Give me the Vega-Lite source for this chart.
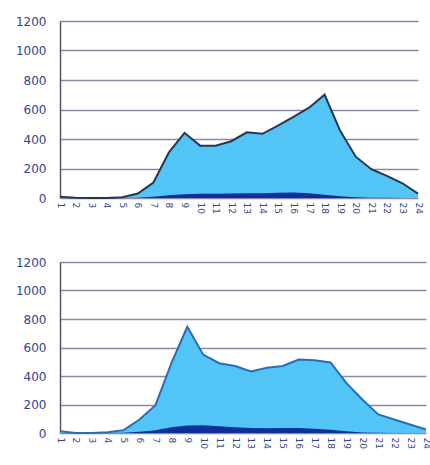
{
  "$schema": "https://vega.github.io/schema/vega-lite/v6.json",
  "background": "white",
  "padding": {"left": 7, "top": 15, "right": 0, "bottom": 0},
  "config": {
    "view": {"stroke": null},
    "axis": {"labelFont": "DejaVu Sans", "labelColor": "#34448a", "title": null}
  },
  "datasets": {
    "top": [
      {"x": 1, "total": 8, "dark": 0}, {"x": 2, "total": 2, "dark": 0}, {"x": 3, "total": 0, "dark": 0}, {"x": 4, "total": 0, "dark": 0},
      {"x": 5, "total": 5, "dark": 0}, {"x": 6, "total": 30, "dark": 2}, {"x": 7, "total": 105, "dark": 8}, {"x": 8, "total": 310, "dark": 18},
      {"x": 9, "total": 442, "dark": 25}, {"x": 10, "total": 355, "dark": 28}, {"x": 11, "total": 355, "dark": 28}, {"x": 12, "total": 385, "dark": 30},
      {"x": 13, "total": 445, "dark": 32}, {"x": 14, "total": 435, "dark": 32}, {"x": 15, "total": 490, "dark": 36}, {"x": 16, "total": 550, "dark": 38},
      {"x": 17, "total": 612, "dark": 32}, {"x": 18, "total": 700, "dark": 22}, {"x": 19, "total": 455, "dark": 12}, {"x": 20, "total": 280, "dark": 5},
      {"x": 21, "total": 195, "dark": 2}, {"x": 22, "total": 150, "dark": 1}, {"x": 23, "total": 100, "dark": 0}, {"x": 24, "total": 30, "dark": 0}
    ],
    "bottom": [
      {"x": 1, "total": 12, "dark": 0}, {"x": 2, "total": 0, "dark": 0}, {"x": 3, "total": 0, "dark": 0}, {"x": 4, "total": 5, "dark": 0},
      {"x": 5, "total": 20, "dark": 2}, {"x": 6, "total": 95, "dark": 8}, {"x": 7, "total": 195, "dark": 20}, {"x": 8, "total": 490, "dark": 40},
      {"x": 9, "total": 745, "dark": 52}, {"x": 10, "total": 550, "dark": 55}, {"x": 11, "total": 490, "dark": 48}, {"x": 12, "total": 470, "dark": 40},
      {"x": 13, "total": 432, "dark": 35}, {"x": 14, "total": 458, "dark": 33}, {"x": 15, "total": 470, "dark": 35}, {"x": 16, "total": 515, "dark": 35},
      {"x": 17, "total": 510, "dark": 30}, {"x": 18, "total": 495, "dark": 22}, {"x": 19, "total": 350, "dark": 12}, {"x": 20, "total": 235, "dark": 4},
      {"x": 21, "total": 130, "dark": 1}, {"x": 22, "total": 95, "dark": 0}, {"x": 23, "total": 60, "dark": 0}, {"x": 24, "total": 25, "dark": 0}
    ]
  },
  "spacing": 42,
  "vconcat": [
    {
      "width": 358,
      "height": 177,
      "data": {"name": "top"},
      "encoding": {
        "x": {"field": "x", "type": "ordinal", "scale": {"type": "point", "padding": 0},
              "axis": {"labelAngle": 90, "labelFontSize": 9, "domain": false, "ticks": false, "labelPadding": 4, "grid": false, "labelOverlap": false}}
      },
      "layer": [
        {
          "mark": {"type": "area", "color": "#52c5f6", "opacity": 1, "line": {"color": "#26384e", "strokeWidth": 2}},
          "encoding": {
            "y": {"field": "total", "type": "quantitative", "scale": {"domain": [0, 1200]},
                  "axis": {"values": [0, 200, 400, 600, 800, 1000, 1200], "format": "d", "labelOverlap": false, "labelFontSize": 12, "labelPadding": 14, "minExtent": 53,
                           "ticks": false, "domain": true, "domainColor": "#555566", "domainWidth": 1.5,
                           "gridColor": "#8a88b0", "gridWidth": 1.6, "gridOpacity": 1}}
          }
        },
        {
          "mark": {"type": "area", "color": "#0c2f9a", "opacity": 1},
          "encoding": {
            "y": {"field": "dark", "type": "quantitative", "scale": {"domain": [0, 1200]},
                  "axis": {"values": [0, 200, 400, 600, 800, 1000, 1200], "format": "d", "labelOverlap": false, "labelFontSize": 12, "labelPadding": 14, "minExtent": 53,
                           "ticks": false, "domain": true, "domainColor": "#555566", "domainWidth": 1.5,
                           "gridColor": "#8a88b0", "gridWidth": 1.6, "gridOpacity": 1}}
          }
        }
      ]
    },
    {
      "width": 366,
      "height": 171,
      "data": {"name": "bottom"},
      "encoding": {
        "x": {"field": "x", "type": "ordinal", "scale": {"type": "point", "padding": 0},
              "axis": {"labelAngle": 90, "labelFontSize": 9, "domain": false, "ticks": false, "labelPadding": 4, "grid": false, "labelOverlap": false}}
      },
      "layer": [
        {
          "mark": {"type": "area", "color": "#52c5f6", "opacity": 1, "line": {"color": "#2a6cb5", "strokeWidth": 2}},
          "encoding": {
            "y": {"field": "total", "type": "quantitative", "scale": {"domain": [0, 1200]},
                  "axis": {"values": [0, 200, 400, 600, 800, 1000, 1200], "format": "d", "labelOverlap": false, "labelFontSize": 12, "labelPadding": 14, "minExtent": 53,
                           "ticks": false, "domain": true, "domainColor": "#555566", "domainWidth": 1.5,
                           "gridColor": "#8a88b0", "gridWidth": 1.6, "gridOpacity": 1}}
          }
        },
        {
          "mark": {"type": "area", "color": "#0c2f9a", "opacity": 1},
          "encoding": {
            "y": {"field": "dark", "type": "quantitative", "scale": {"domain": [0, 1200]},
                  "axis": {"values": [0, 200, 400, 600, 800, 1000, 1200], "format": "d", "labelOverlap": false, "labelFontSize": 12, "labelPadding": 14, "minExtent": 53,
                           "ticks": false, "domain": true, "domainColor": "#555566", "domainWidth": 1.5,
                           "gridColor": "#8a88b0", "gridWidth": 1.6, "gridOpacity": 1}}
          }
        }
      ]
    }
  ]
}
